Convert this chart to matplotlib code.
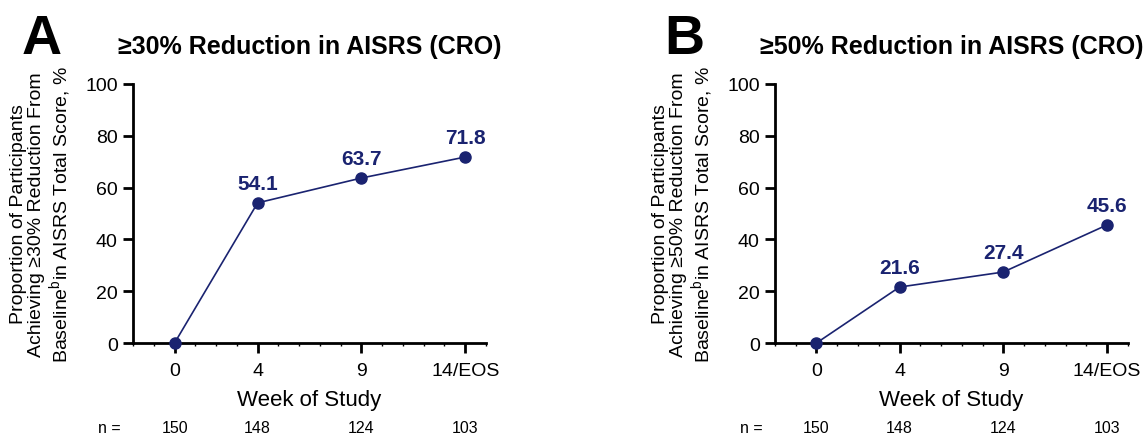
import matplotlib.pyplot as plt
from matplotlib.ticker import MultipleLocator
import matplotlib.transforms as mtransforms

plt.rcParams['font.family'] = ['Liberation Sans', 'DejaVu Sans']
plt.rcParams['mathtext.fontset'] = 'custom'
plt.rcParams['mathtext.rm'] = 'Liberation Sans'

weeks = [0, 4, 9, 14]
week_labels = ['0', '4', '9', '14/EOS']
n_values = [150, 148, 124, 103]
reduction_30 = [0, 54.1, 63.7, 71.8]
reduction_50 = [0, 21.6, 27.4, 45.6]

navy = '#1a2370'


def draw_panel(ax, values, letter, title, threshold):
    ax.plot(weeks, values, color=navy, linewidth=1.2, marker='o', markersize=8,
            clip_on=False, zorder=3)
    for x, y in zip(weeks[1:], values[1:]):
        ax.annotate(f'{y:.1f}', (x, y), xytext=(0, 7), textcoords='offset points',
                    ha='center', va='bottom', fontsize=15, fontweight='bold', color=navy)
    ax.set_xlim(-2, 15)
    ax.set_ylim(0, 100)
    ax.set_xticks(weeks)
    ax.set_xticklabels(week_labels)
    ax.set_yticks(range(0, 101, 20))
    ax.xaxis.set_minor_locator(MultipleLocator(1))
    ax.spines['top'].set_visible(False)
    ax.spines['right'].set_visible(False)
    for s in ['left', 'bottom']:
        ax.spines[s].set_linewidth(2)
    ax.tick_params(which='major', length=7, width=2, labelsize=14, pad=4)
    ax.tick_params(axis='x', which='major', pad=7)
    ax.tick_params(which='minor', axis='x', length=2.5, width=1)
    ax.set_xlabel('Week of Study', fontsize=16, labelpad=7)
    ax.set_ylabel('Proportion of Participants\nAchieving \u2265%d%% Reduction From\n'
                  'Baseline$^{\\mathrm{b}}$in AISRS Total Score, %%' % threshold,
                  fontsize=14, linespacing=1.1, labelpad=8)
    ax.set_title(title, fontsize=18, fontweight='bold', pad=22)
    ax.text(-0.315, 1.175, letter, transform=ax.transAxes, fontsize=40,
            fontweight='bold', ha='left', va='center')
    trans = mtransforms.blended_transform_factory(ax.transData, ax.transAxes)
    ax.text(-0.098, -0.325, 'n =', transform=ax.transAxes, fontsize=11.5,
            ha='left', va='center')
    for x, n in zip(weeks, n_values):
        ax.text(x, -0.325, str(n), transform=trans, fontsize=11.5,
                ha='center', va='center')


fig = plt.figure(figsize=(11.43, 4.39), dpi=100)
ax1 = fig.add_axes([0.1164, 0.2164, 0.3088, 0.59])
ax2 = fig.add_axes([0.678, 0.2164, 0.3088, 0.59])

draw_panel(ax1, reduction_30, 'A', '\u226530% Reduction in AISRS (CRO)', 30)
draw_panel(ax2, reduction_50, 'B', '\u226550% Reduction in AISRS (CRO)', 50)

fig.savefig('out.png', dpi=100)
